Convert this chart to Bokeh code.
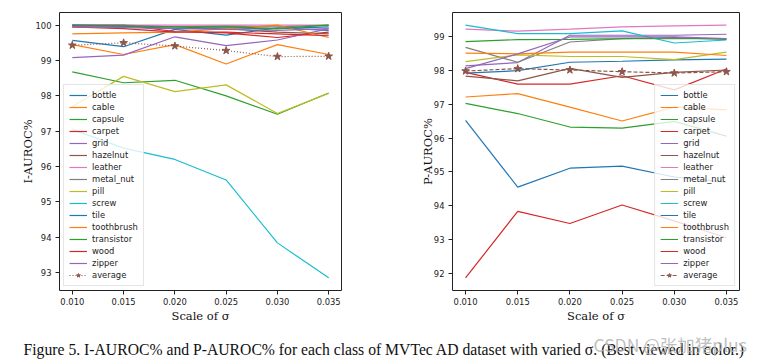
from bokeh.plotting import figure
from bokeh.layouts import column, row
from bokeh.models import Range1d, FixedTicker, Label
from bokeh.embed import file_html
from bokeh.resources import INLINE

sigma = [0.010, 0.015, 0.020, 0.025, 0.030, 0.035]
x_ticks = [0.010, 0.015, 0.020, 0.025, 0.030, 0.035]
classes = ["bottle", "cable", "capsule", "carpet", "grid", "hazelnut", "leather",
           "metal_nut", "pill", "screw", "tile", "toothbrush", "transistor", "wood", "zipper"]

# I-AUROC% (left panel)
i_bottle = [99.57, 99.39, 99.88, 99.72, 99.92, 99.85]
i_cable = [99.45, 99.17, 99.45, 98.90, 99.45, 99.17]
i_capsule = [98.68, 98.37, 98.44, 98.00, 97.48, 98.08]
i_carpet = [100.0, 100.0, 99.82, 99.78, 99.65, 99.80]
i_grid = [99.08, 99.15, 99.67, 99.42, 99.58, 99.90]
i_hazelnut = [100.0, 100.0, 99.95, 99.90, 99.80, 99.75]
i_leather = [100.0, 100.0, 100.0, 100.0, 100.0, 100.0]
i_metal_nut = [99.95, 99.95, 99.95, 99.97, 99.95, 100.0]
i_pill = [97.70, 98.55, 98.12, 98.31, 97.50, 98.07]
i_screw = [97.05, 96.52, 96.20, 95.62, 93.84, 92.85]
i_tile = [100.0, 99.97, 99.90, 99.92, 99.90, 99.95]
i_toothbrush = [99.75, 99.78, 99.80, 99.90, 100.0, 99.65]
i_transistor = [99.98, 99.98, 99.95, 99.95, 99.90, 100.0]
i_wood = [99.95, 99.90, 99.80, 99.80, 99.75, 99.70]
i_zipper = [99.95, 99.93, 99.90, 99.88, 99.85, 99.90]
i_average = [99.43, 99.50, 99.41, 99.28, 99.11, 99.12]
i_yticks = [93, 94, 95, 96, 97, 98, 99, 100]

# P-AUROC% (right panel)
p_bottle = [97.93, 98.00, 98.25, 98.28, 98.32, 98.34]
p_cable = [97.22, 97.32, 96.92, 96.51, 96.92, 96.84]
p_capsule = [97.03, 96.73, 96.33, 96.30, 96.50, 96.06]
p_carpet = [97.95, 97.60, 97.60, 97.85, 97.43, 98.05]
p_grid = [98.14, 98.24, 99.05, 99.05, 99.05, 99.08]
p_hazelnut = [97.84, 97.70, 98.07, 97.80, 97.95, 98.02]
p_leather = [99.23, 99.17, 99.23, 99.30, 99.33, 99.35]
p_metal_nut = [98.69, 98.25, 98.85, 98.95, 98.95, 98.95]
p_pill = [98.27, 98.47, 98.42, 98.42, 98.33, 98.55]
p_screw = [99.35, 99.10, 99.10, 99.18, 98.82, 98.91]
p_tile = [96.53, 94.55, 95.11, 95.17, 94.85, 94.70]
p_toothbrush = [98.52, 98.50, 98.55, 98.55, 98.55, 98.45]
p_transistor = [98.86, 98.92, 98.93, 98.95, 98.98, 98.93]
p_wood = [91.86, 93.83, 93.47, 94.02, 93.55, 93.05]
p_zipper = [98.06, 98.50, 99.00, 99.00, 99.00, 98.95]
p_average = [97.99, 98.06, 98.02, 97.97, 97.93, 97.97]
p_yticks = [92, 93, 94, 95, 96, 97, 98, 99]

i_series = [i_bottle, i_cable, i_capsule, i_carpet, i_grid, i_hazelnut, i_leather, i_metal_nut,
            i_pill, i_screw, i_tile, i_toothbrush, i_transistor, i_wood, i_zipper]
p_series = [p_bottle, p_cable, p_capsule, p_carpet, p_grid, p_hazelnut, p_leather, p_metal_nut,
            p_pill, p_screw, p_tile, p_toothbrush, p_transistor, p_wood, p_zipper]

tab10 = ["#1f77b4", "#ff7f0e", "#2ca02c", "#d62728", "#9467bd",
         "#8c564b", "#e377c2", "#7f7f7f", "#bcbd22", "#17becf"]

caption = "Figure 5. I-AUROC% and P-AUROC% for each class of MVTec AD dataset with varied \u03c3. (Best viewed in color.)"
watermark = "CSDN @\u5f20\u52a0\u732aplus"


def padded(vals, frac=0.05):
    lo, hi = min(vals), max(vals)
    m = (hi - lo) * frac
    return lo - m, hi + m


def make_panel(width, height, borders, ylabel, series, avg, avg_dash, yticks, legend_loc,
               ylabel_standoff):
    all_vals = [v for s in series for v in s] + avg
    y0, y1 = padded(all_vals)
    x0, x1 = padded(sigma)
    p = figure(width=width, height=height, output_backend="svg", toolbar_location=None,
               x_range=Range1d(x0, x1), y_range=Range1d(y0, y1),
               min_border_left=borders[0], min_border_right=borders[1],
               min_border_top=borders[2], min_border_bottom=borders[3])
    p.xgrid.visible = False
    p.ygrid.visible = False
    p.outline_line_color = "#222222"
    p.outline_line_width = 1
    p.background_fill_color = "white"
    p.border_fill_color = "white"

    for i, (name, vals) in enumerate(zip(classes, series)):
        p.line(sigma, vals, line_color=tab10[i % 10], line_width=1.2, legend_label=name)
    p.line(sigma, avg, line_color=tab10[5], line_width=1.2, line_dash=avg_dash,
           legend_label="average")
    p.scatter(sigma, avg, marker="star", size=8, fill_color=tab10[5], line_color=tab10[5],
              legend_label="average")

    for ax in (p.xaxis[0], p.yaxis[0]):
        ax.major_tick_out = 4
        ax.major_tick_in = 0
        ax.minor_tick_out = 0
        ax.minor_tick_in = 0
        ax.axis_line_color = None
        ax.major_tick_line_color = "#222222"
        ax.major_label_text_font = "DejaVu Sans"
        ax.major_label_text_font_size = "8.4px"
        ax.major_label_text_color = "#222222"
        ax.axis_label_text_font = "DejaVu Serif"
        ax.axis_label_text_font_size = "11.5px"
        ax.axis_label_text_font_style = "normal"
        ax.axis_label_text_color = "#111111"
    p.xaxis.ticker = FixedTicker(ticks=x_ticks)
    p.xaxis.major_label_overrides = {t: f"{t:.3f}" for t in x_ticks}
    p.xaxis.major_label_standoff = 3
    p.xaxis.axis_label_standoff = 1
    p.xaxis.axis_label = "Scale of \u03c3"
    p.yaxis.ticker = FixedTicker(ticks=yticks)
    p.yaxis.major_label_standoff = 4
    p.yaxis.axis_label_standoff = ylabel_standoff
    p.yaxis.axis_label = ylabel

    lg = p.legend[0]
    lg.location = legend_loc
    lg.margin = 4
    lg.padding = 5
    lg.spacing = 2
    lg.label_height = 10
    lg.glyph_height = 10
    lg.glyph_width = 18
    lg.label_standoff = 5
    lg.label_text_font = "DejaVu Sans"
    lg.label_text_font_size = "8.4px"
    lg.label_text_color = "#222222"
    lg.border_line_color = "#cccccc"
    lg.border_line_width = 1
    lg.background_fill_alpha = 0.8
    return p


left = make_panel(384, 333, (59, 43, 11, 42), "I-AUROC%", i_series, i_average, "1 2",
                  i_yticks, "bottom_left", -2)
right = make_panel(381, 333, (68, 26, 12, 43), "P-AUROC%", p_series, p_average, "4 2",
                   p_yticks, "bottom_right", -4)

cap = figure(width=765, height=31, output_backend="svg", toolbar_location=None,
             x_range=Range1d(0, 765), y_range=Range1d(0, 31),
             min_border=0, x_axis_type=None, y_axis_type=None)
cap.outline_line_color = None
cap.xgrid.visible = False
cap.ygrid.visible = False
cap.add_layout(Label(x=23, y=15, x_units="screen", y_units="screen", text=caption,
                     text_font="Liberation Serif", text_font_size="15.7px",
                     text_color="#111111", text_baseline="middle"))
cap.add_layout(Label(x=593, y=20, x_units="screen", y_units="screen", text=watermark,
                     text_font="Noto Sans CJK SC", text_font_size="17.5px",
                     text_color="#b4b4b4", text_alpha=0.85, text_baseline="middle"))

page = column(row(left, right), cap)
open("out.html", "w").write(file_html(page, INLINE))
